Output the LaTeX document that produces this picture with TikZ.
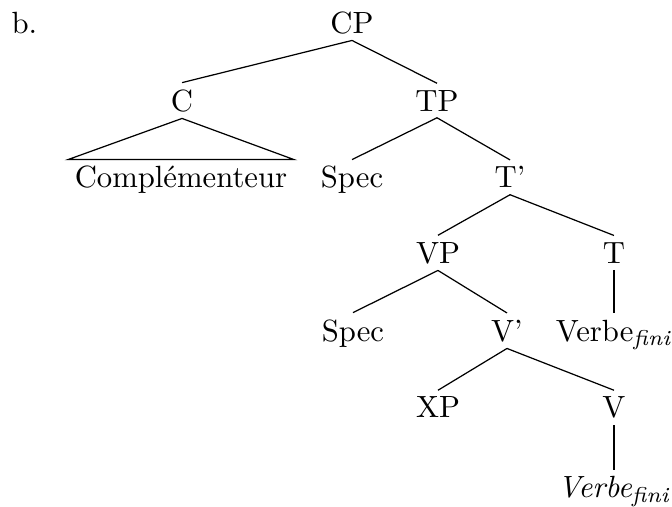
\documentclass[tikz,border=0pt]{standalone}
\usepackage{amsmath}
\usepackage{xcolor}
\usepackage{tikz}
\usetikzlibrary{arrows, arrows.meta, calc}

\begin{document}
\begin{tikzpicture}
        \tikzset{cat/.style={anchor=base, inner sep=2pt}}

        \useasboundingbox (0, 0) rectangle (7.693, -5.793);

        \node [anchor=base west, inner sep=0pt] (lbl) at (0.126, -0.378) {b.};

        \node [cat] (cp) at (4.030, -0.378) {CP};
        \node [cat] (c) at (2.084, -1.271) {C};
        \node [cat] (tp) at (5.003, -1.271) {TP};
        \node [cat] (comp) at (2.072, -2.152) {Complémenteur};
        \node [cat] (spect) at (4.030, -2.152) {Spec};
        \node [cat] (tbar) at (5.839, -2.152) {T'};
        \node [cat] (vp) at (5.014, -3.011) {VP};
        \node [cat] (t) at (7.029, -3.011) {T};
        \node [cat] (specv) at (4.041, -3.904) {Spec};
        \node [cat] (vbar) at (5.804, -3.904) {V'};
        \node [cat] (verbt) at (7.029, -3.904) {Verbe\textsubscript{\textit{fini}}};
        \node [cat] (xp) at (5.014, -4.785) {XP};
        \node [cat] (v) at (7.029, -4.785) {V};
        \node [cat] (verbv) at (7.029, -5.701) {\textit{Verbe\textsubscript{fini}}};

        % branches
        \foreach \mother/\daughter in {cp/c, cp/tp, tp/spect, tp/tbar, tbar/vp, tbar/t,
            t/verbt, vp/specv, vp/vbar, vbar/xp, vbar/v, v/verbv}
            \draw (\mother.south) -- (\daughter.north);

        % roof
        \draw (c.south) -- (comp.north west) -- (comp.north east) -- cycle;

    \end{tikzpicture}
\end{document}
